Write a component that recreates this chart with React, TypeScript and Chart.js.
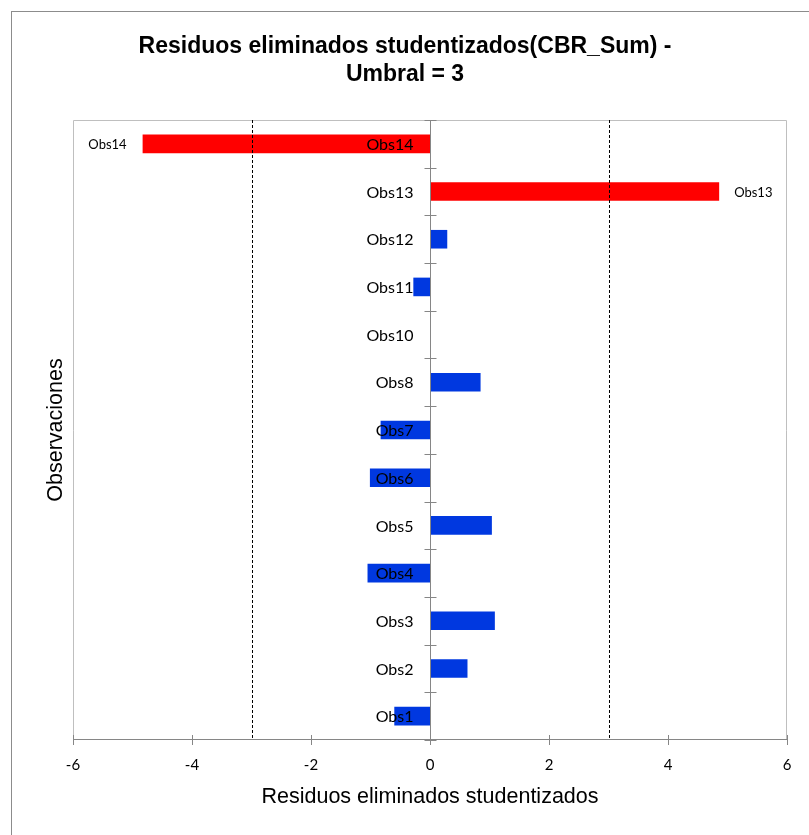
import React, { useEffect, useRef } from 'react';
import { Chart, registerables } from 'chart.js';

Chart.register(...registerables);

// ---- data ----
const categories = ['Obs1', 'Obs2', 'Obs3', 'Obs4', 'Obs5', 'Obs6', 'Obs7', 'Obs8', 'Obs10', 'Obs11', 'Obs12', 'Obs13', 'Obs14'];
const residuals = [-0.6, 0.63, 1.09, -1.05, 1.04, -1.01, -0.83, 0.85, 0, -0.28, 0.29, 4.86, -4.83];
const threshold = 3;
const xMin = -6;
const xMax = 6;
const xStep = 2;
const chartTitle = ['Residuos eliminados studentizados(CBR_Sum) -', 'Umbral = 3'];
const xTitle = 'Residuos eliminados studentizados';
const yTitle = 'Observaciones';

const RED = '#FF0000';
const BLUE = '#0038E0';
const AXIS = '#868686';
const BOX = '#BFBFBF';

const decor = {
  id: 'decor',
  afterDatasetsDraw(chart: any) {
    const ctx = chart.ctx as CanvasRenderingContext2D;
    const { left, right, top, bottom } = chart.chartArea;
    const xs = chart.scales.x;
    const ys = chart.scales.y;
    ctx.save();

    // outer chart border
    ctx.lineWidth = 1;
    ctx.strokeStyle = '#8C8C8C';
    ctx.strokeRect(11.5, 11.5, chart.width + 20, chart.height + 20);

    // plot area box (top, left, right)
    ctx.strokeStyle = BOX;
    ctx.beginPath();
    ctx.moveTo(left + 0.5, bottom);
    ctx.lineTo(left + 0.5, top + 0.5);
    ctx.lineTo(right - 0.5, top + 0.5);
    ctx.lineTo(right - 0.5, bottom);
    ctx.stroke();

    // threshold dashed lines
    ctx.strokeStyle = '#000';
    ctx.setLineDash([3, 2]);
    for (const t of [-threshold, threshold]) {
      const x = Math.round(xs.getPixelForValue(t)) + 0.5;
      ctx.beginPath();
      ctx.moveTo(x, top);
      ctx.lineTo(x, bottom);
      ctx.stroke();
    }
    ctx.setLineDash([]);

    // vertical category axis at zero
    ctx.strokeStyle = AXIS;
    const x0 = Math.round(xs.getPixelForValue(0)) + 0.5;
    ctx.beginPath();
    ctx.moveTo(x0, top);
    ctx.lineTo(x0, bottom);
    ctx.stroke();
    const n = categories.length;
    const step = (bottom - top) / n;
    for (let k = 0; k <= n; k++) {
      const y = Math.round(top + k * step) + 0.5;
      ctx.beginPath();
      ctx.moveTo(x0 - 6, y);
      ctx.lineTo(x0 + 6, y);
      ctx.stroke();
    }

    // horizontal value axis
    ctx.beginPath();
    ctx.moveTo(left, bottom - 0.5);
    ctx.lineTo(right, bottom - 0.5);
    ctx.stroke();
    for (let v = xMin; v <= xMax; v += xStep) {
      const x = Math.round(xs.getPixelForValue(v)) + 0.5;
      ctx.beginPath();
      ctx.moveTo(x, bottom - 5);
      ctx.lineTo(x, bottom + 5);
      ctx.stroke();
    }

    // category labels next to the zero axis
    ctx.fillStyle = '#000';
    ctx.font = '16px Lato';
    ctx.textAlign = 'right';
    ctx.textBaseline = 'middle';
    categories.forEach((c, i) => {
      const y = ys.getPixelForValue(i);
      ctx.fillText(c, x0 - 17, y + 1);
    });

    // data labels for outliers
    const meta = chart.getDatasetMeta(0);
    ctx.font = '13px Lato';
    residuals.forEach((v, i) => {
      if (Math.abs(v) <= threshold) return;
      const el: any = meta.data[i];
      if (v < 0) {
        ctx.textAlign = 'right';
        ctx.fillText(categories[i], el.x - 16, el.y + 1);
      } else {
        ctx.textAlign = 'left';
        ctx.fillText(categories[i], el.x + 15, el.y + 1);
      }
    });

    // chart title
    ctx.textAlign = 'center';
    ctx.font = 'bold 23px "Liberation Sans"';
    ctx.fillText(chartTitle[0], 405, 47);
    ctx.fillText(chartTitle[1], 405, 75);

    // axis titles
    ctx.font = '21.5px "Liberation Sans"';
    ctx.fillText(xTitle, (left + right) / 2, 797);
    ctx.save();
    ctx.translate(56, (top + bottom) / 2);
    ctx.rotate(-Math.PI / 2);
    ctx.fillText(yTitle, 0, 0);
    ctx.restore();

    ctx.restore();
  },
};

export default function App() {
  const ref = useRef<HTMLCanvasElement | null>(null);
  useEffect(() => {
    if (!ref.current) return;
    const chart = new Chart(ref.current, {
      type: 'bar',
      data: {
        labels: categories,
        datasets: [
          {
            data: residuals,
            backgroundColor: residuals.map((v) => (Math.abs(v) > threshold ? RED : BLUE)),
            borderWidth: 0,
            barPercentage: 0.39,
            categoryPercentage: 1,
          },
        ],
      },
      options: {
        indexAxis: 'y',
        responsive: false,
        animation: false,
        layout: { padding: { left: 0, top: 120, right: 22, bottom: 0 } },
        plugins: {
          legend: { display: false },
          title: { display: false },
          tooltip: { enabled: false },
        },
        scales: {
          x: {
            type: 'linear',
            min: xMin,
            max: xMax,
            ticks: {
              stepSize: xStep,
              color: '#000',
              font: { family: 'Lato', size: 15 },
              padding: 16,
            },
            grid: { display: false, drawTicks: false },
            border: { display: false },
            afterFit: (s: any) => {
              s.height = 95;
            },
          },
          y: {
            type: 'category',
            reverse: true,
            ticks: { display: false },
            grid: { display: false, drawTicks: false },
            border: { display: false },
            afterFit: (s: any) => {
              s.width = 73;
            },
          },
        },
      },
      plugins: [decor],
    });
    return () => chart.destroy();
  }, []);
  return (
    <div style={{ position: 'absolute', left: 0, top: 0, width: 809, height: 835, background: '#fff' }}>
      <canvas ref={ref} width={809} height={835} style={{ display: 'block' }} />
    </div>
  );
}
